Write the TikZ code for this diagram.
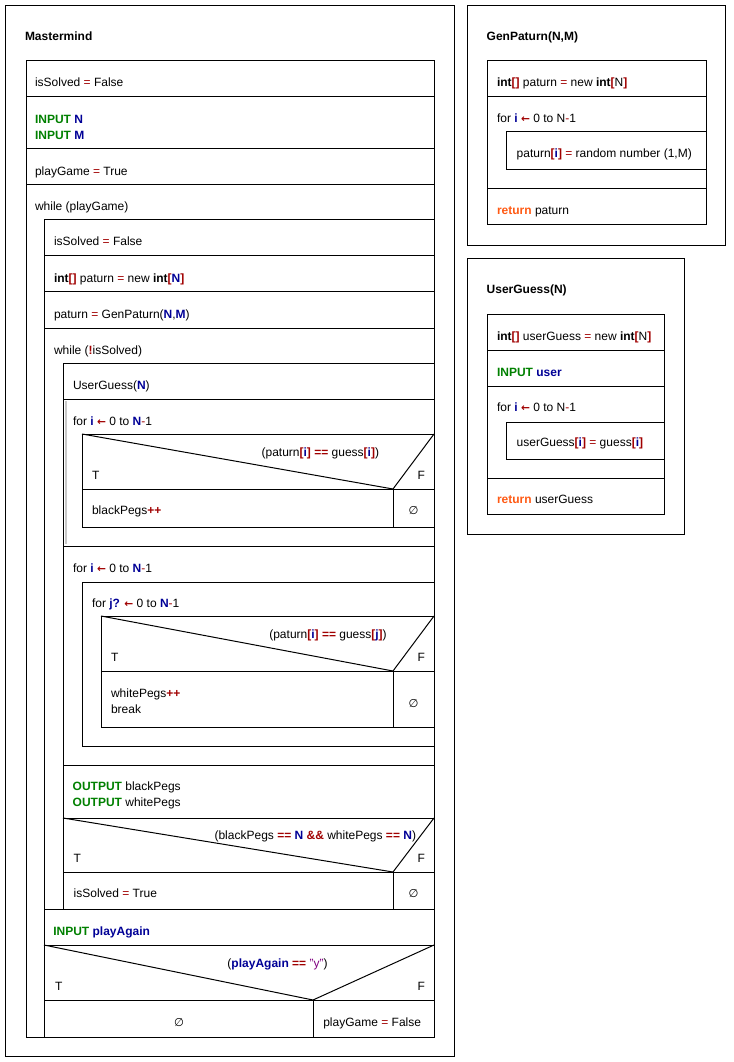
\documentclass[tikz,border=0pt]{standalone}
\usepackage{fontspec}
\setmainfont{Liberation Sans}
\newfontfamily\nsSymFont{DejaVu Sans}
\definecolor{kwc}{RGB}{0,128,0}
\definecolor{vbc}{RGB}{0,0,150}
\definecolor{opc}{RGB}{160,0,0}
\definecolor{retc}{RGB}{255,90,20}
\definecolor{strc}{RGB}{128,0,128}
\definecolor{barc}{RGB}{200,200,200}
\newcommand\nsKw[1]{\textbf{\textcolor{kwc}{#1}}}
\newcommand\nsVb[1]{\textbf{\textcolor{vbc}{#1}}}
\newcommand\nsOpB[1]{\textbf{\textcolor{opc}{#1}}}
\newcommand\nsOp[1]{\textcolor{opc}{#1}}
\newcommand\nsRet[1]{\textbf{\textcolor{retc}{#1}}}
\newcommand\nsEmpty{{\nsSymFont\fontsize{8.5}{10}\selectfont ∅}}
\newcommand\nsArr{{\nsSymFont\bfseries\fontsize{8}{10}\selectfont\textcolor{opc}{←}}}
\begin{document}
\begin{tikzpicture}[x=0.75pt,y=-0.75pt,line width=0.75pt,
  every node/.style={inner sep=0pt,outer sep=0pt,font=\fontsize{9}{12}\selectfont},
  txt/.style={anchor=base west},
  rtxt/.style={anchor=base east},
  ctxt/.style={anchor=base}]
\useasboundingbox (0,0) rectangle (733,1062);
% ---------- frames
\draw (5.5,5.5) rectangle (454.5,1056.5);
\draw (467.5,5.5) rectangle (725.5,245.5);
\draw (467.5,258.5) rectangle (684.5,534.5);
% ---------- Mastermind structure
\draw (26,61) rectangle (434,1037);
\foreach \y in {97,149,185} \draw (26,\y) -- (434,\y);
% while (playGame) body
\draw (44,1037) -- (44,220) -- (434,220);
\foreach \y in {256,292,328,909,945,1000} \draw (44,\y) -- (434,\y);
% while (!isSolved) body
\draw (63,909) -- (63,363) -- (434,363);
\foreach \y in {399,546,765,818,872} \draw (63,\y) -- (434,\y);
% first for
\fill[barc] (64.5,401) rectangle (66.5,544);
\draw (434,434) -- (82,434) -- (82,527) -- (434,527);
\draw (82,489) -- (434,489);
\draw (82,434) -- (393,489) -- (434,434);
\draw (393,489) -- (393,527);
% second for
\draw (434,582) -- (82,582) -- (82,746) -- (434,746);
% for j
\draw (434,616) -- (101,616) -- (101,727) -- (434,727);
\draw (101,671) -- (434,671);
\draw (101,616) -- (393,671) -- (434,616);
\draw (393,671) -- (393,727);
% if solved
\draw (63,818) -- (393,872) -- (434,818);
\draw (393,872) -- (393,909);
% if playAgain
\draw (44,945) -- (313,1000) -- (434,945);
\draw (313,1000) -- (313,1037);
% ---------- GenPaturn structure
\draw (487,61) rectangle (706,225);
\draw (487,97) -- (706,97);
\draw (487,189) -- (706,189);
\draw (706,132) -- (506,132) -- (506,170) -- (706,170);
% ---------- UserGuess structure
\draw (487,314) rectangle (664,514);
\foreach \y in {350,386,478} \draw (487,\y) -- (664,\y);
\draw (664,422) -- (506,422) -- (506,459) -- (664,459);
% ---------- Mastermind texts
\node[txt] (mTitle) at (25,40.7) {\textbf{Mastermind}};
\node[txt] (m1) at (35,87) {isSolved \nsOp{=} False};
\node[txt] (m2a) at (35,123.3) {\nsKw{INPUT} \nsVb{N}};
\node[txt] (m2b) at (35,139.3) {\nsKw{INPUT} \nsVb{M}};
\node[txt] (m3) at (35,175.3) {playGame \nsOp{=} True};
\node[txt] (m4) at (35,211) {while (playGame)};
\node[txt] (m5) at (54,246) {isSolved \nsOp{=} False};
\node[txt] (m6) at (54,282) {\textbf{int}\nsOpB{[]} paturn \nsOp{=} new \textbf{int}\nsOpB{[}\nsVb{N}\nsOpB{]}};
\node[txt] (m7) at (54,318) {paturn \nsOp{=} GenPaturn(\nsVb{N},\nsVb{M})};
\node[txt] (m8) at (54,354) {while (\nsOpB{!}isSolved)};
\node[txt] (m9) at (73,389.5) {UserGuess(\nsVb{N})};
\node[txt] (m10) at (73,425) {for \nsVb{i} \nsArr{} 0 to \nsVb{N}\nsOp{-}1};
\node[rtxt] (c1) at (379,456) {(paturn\nsOpB{[}\nsVb{i}\nsOpB{]} \nsOpB{==} guess\nsOpB{[}\nsVb{i}\nsOpB{]})};
\node[txt] (c1T) at (92,479) {T};
\node[txt] (c1F) at (417.5,479) {F};
\node[txt] (c1a) at (92,514) {blackPegs\nsOpB{++}};
\node[ctxt] (c1b) at (413.5,514) {\nsEmpty};
\node[txt] (m11) at (73,572) {for \nsVb{i} \nsArr{} 0 to \nsVb{N}\nsOp{-}1};
\node[txt] (m12) at (92,607) {for \nsVb{j?} \nsArr{} 0 to \nsVb{N}\nsOp{-}1};
\node[rtxt] (c2) at (386.7,638) {(paturn\nsOpB{[}\nsVb{i}\nsOpB{]} \nsOpB{==} guess\nsOpB{[}\nsVb{j}\nsOpB{]})};
\node[txt] (c2T) at (111,661) {T};
\node[txt] (c2F) at (417.5,661) {F};
\node[txt] (c2a) at (111,697) {whitePegs\nsOpB{++}};
\node[txt] (c2b) at (111,713) {break};
\node[ctxt] (c2c) at (413.5,707) {\nsEmpty};
\node[txt] (m13a) at (72.7,790.7) {\nsKw{OUTPUT} blackPegs};
\node[txt] (m13b) at (72.7,806.7) {\nsKw{OUTPUT} whitePegs};
\node[rtxt] (c3) at (416,839) {(blackPegs \nsOpB{==} \nsVb{N} \nsOpB{\&\&} whitePegs \nsOpB{==} \nsVb{N})};
\node[txt] (c3T) at (73.7,862) {T};
\node[txt] (c3F) at (417.5,862) {F};
\node[txt] (c3a) at (73.7,897.3) {isSolved \nsOp{=} True};
\node[ctxt] (c3b) at (413.5,897.3) {\nsEmpty};
\node[txt] (m14) at (53.3,935) {\nsKw{INPUT} \nsVb{playAgain}};
\node[ctxt] (c4) at (277.5,967) {(\nsVb{playAgain} \nsOpB{==} \textcolor{strc}{"y"})};
\node[txt] (c4T) at (55,990) {T};
\node[txt] (c4F) at (417.5,990) {F};
\node[ctxt] (c4a) at (179,1026) {\nsEmpty};
\node[txt] (c4b) at (323.3,1026) {playGame \nsOp{=} False};
% ---------- GenPaturn texts
\node[txt] (gTitle) at (486.7,40.7) {\textbf{GenPaturn(N,M)}};
\node[txt] (g1) at (497,86.3) {\textbf{int}\nsOpB{[]} paturn \nsOp{=} new \textbf{int}\nsOpB{[}N\nsOpB{]}};
\node[txt] (g2) at (497,122.7) {for \nsVb{i} \nsArr{} 0 to N\nsOp{-}1};
\node[txt] (g3) at (516.7,157.7) {paturn\nsOpB{[}\nsVb{i}\nsOpB{]} \nsOp{=} random number (1,M)};
\node[txt] (g4) at (497,214.3) {\nsRet{return} paturn};
% ---------- UserGuess texts
\node[txt] (uTitle) at (486.7,294) {\textbf{UserGuess(N)}};
\node[txt] (u1) at (497,340) {\textbf{int}\nsOpB{[]} userGuess \nsOp{=} new \textbf{int}\nsOpB{[}N\nsOpB{]}};
\node[txt] (u2) at (497,376) {\nsKw{INPUT} \nsVb{user}};
\node[txt] (u3) at (497,411.7) {for \nsVb{i} \nsArr{} 0 to N\nsOp{-}1};
\node[txt] (u4) at (516.7,446.7) {userGuess\nsOpB{[}\nsVb{i}\nsOpB{]} \nsOp{=} guess\nsOpB{[}\nsVb{i}\nsOpB{]}};
\node[txt] (u5) at (497,503.3) {\nsRet{return} userGuess};
\end{tikzpicture}
\end{document}
